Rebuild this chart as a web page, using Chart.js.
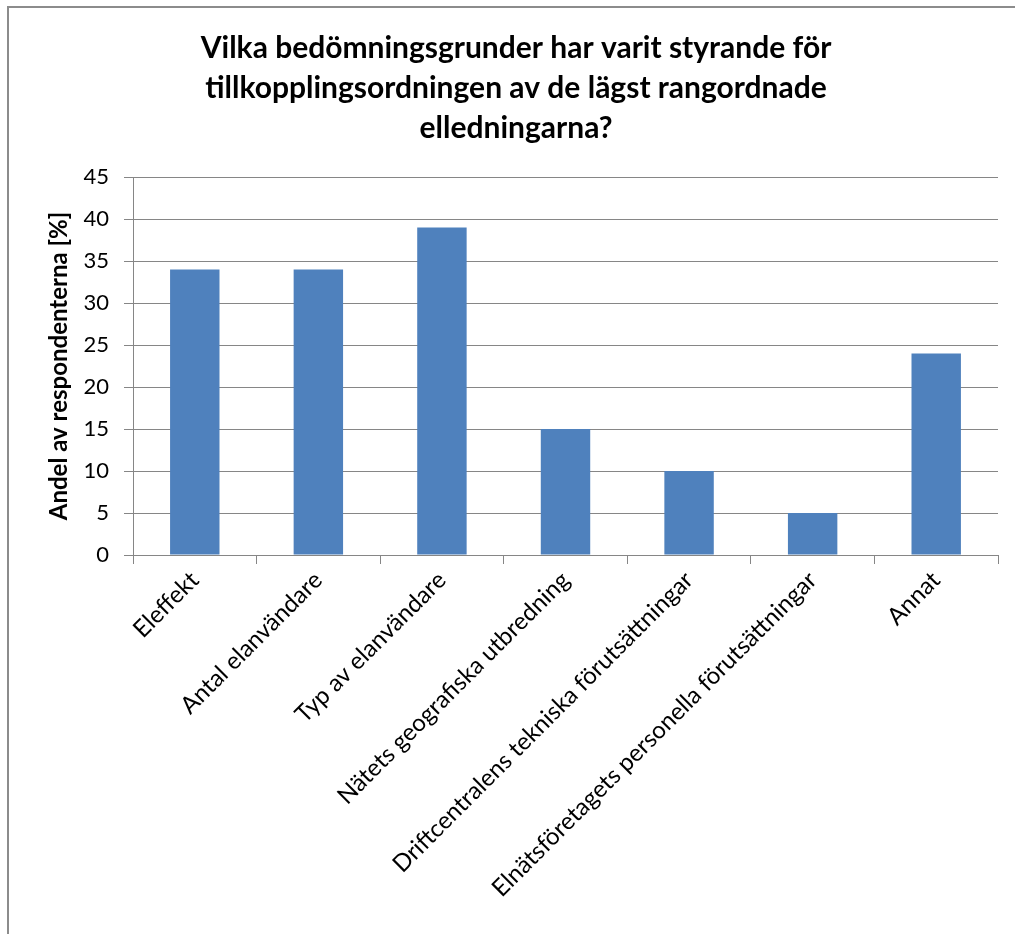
<!DOCTYPE html>
<html>
<head>
<meta charset="utf-8">
<script src="https://cdn.jsdelivr.net/npm/chart.js@4.4.1/dist/chart.umd.min.js"></script>
<style>
  html, body { margin: 0; padding: 0; background: #ffffff; }
  #wrap { position: relative; width: 1015px; height: 934px; }
</style>
</head>
<body>
<div id="wrap"><canvas id="c" width="1015" height="934"></canvas></div>
<script>
const titleLines = [
  "Vilka bedömningsgrunder har varit styrande för",
  "tillkopplingsordningen av de lägst rangordnade",
  "elledningarna?"
];
const yAxisTitle = "Andel av respondenterna [%]";
const categories = [
  "Eleffekt",
  "Antal elanvändare",
  "Typ av elanvändare",
  "Nätets geografiska utbredning",
  "Driftcentralens tekniska förutsättningar",
  "Elnätsföretagets personella förutsättningar",
  "Annat"
];
const values = [34, 34, 39, 15, 10, 5, 24];
const yMin = 0, yMax = 45, yStep = 5;

const FONT = "Lato, 'Open Sans', sans-serif";

const borderPlugin = {
  id: 'outerBorder',
  beforeDraw(chart) {
    const ctx = chart.ctx;
    ctx.save();
    ctx.fillStyle = '#ffffff';
    ctx.fillRect(0, 0, chart.width, chart.height);
    ctx.strokeStyle = '#8c8c8c';
    ctx.lineWidth = 2;
    ctx.beginPath();
    ctx.moveTo(8, chart.height + 5);
    ctx.lineTo(8, 7);
    ctx.lineTo(chart.width + 5, 7);
    ctx.stroke();
    ctx.restore();
  }
};

new Chart(document.getElementById('c'), {
  type: 'bar',
  data: {
    labels: categories,
    datasets: [{
      data: values,
      backgroundColor: '#4F81BD',
      borderWidth: 0,
      categoryPercentage: 1.0,
      barPercentage: 0.4
    }]
  },
  options: {
    responsive: false,
    animation: false,
    devicePixelRatio: 1,
    layout: { padding: { left: 34, right: 17, top: 28, bottom: 10 } },
    plugins: {
      legend: { display: false },
      tooltip: { enabled: false },
      title: {
        display: true,
        text: titleLines,
        color: '#000000',
        font: { family: FONT, size: 30, weight: 'bold', lineHeight: 40 / 30 },
        padding: { top: 0, bottom: 29 }
      }
    },
    scales: {
      x: {
        grid: { display: true, drawOnChartArea: false, drawTicks: true, tickLength: 9, offset: true, color: '#868686', lineWidth: 1 },
        border: { display: true, color: '#868686', width: 1 },
        ticks: {
          color: '#000000',
          font: { family: FONT, size: 24 },
          maxRotation: 45, minRotation: 45,
          autoSkip: false,
          padding: 2
        },
        afterFit(scale) { scale.height = 934 - 555 - 10; }
      },
      y: {
        min: yMin, max: yMax,
        ticks: {
          stepSize: yStep,
          color: '#000000',
          font: { family: FONT, size: 22 },
          padding: 15
        },
        grid: { color: '#868686', lineWidth: 1, tickLength: 9, drawTicks: true },
        border: { display: true, color: '#868686', width: 1 },
        title: {
          display: true,
          text: yAxisTitle,
          color: '#000000',
          font: { family: FONT, size: 24, weight: 'bold' },
          padding: { top: 11, bottom: 0 }
        },
        afterFit(scale) { scale.width = 133 - 34; }
      }
    }
  },
  plugins: [borderPlugin]
});
</script>
</body>
</html>
